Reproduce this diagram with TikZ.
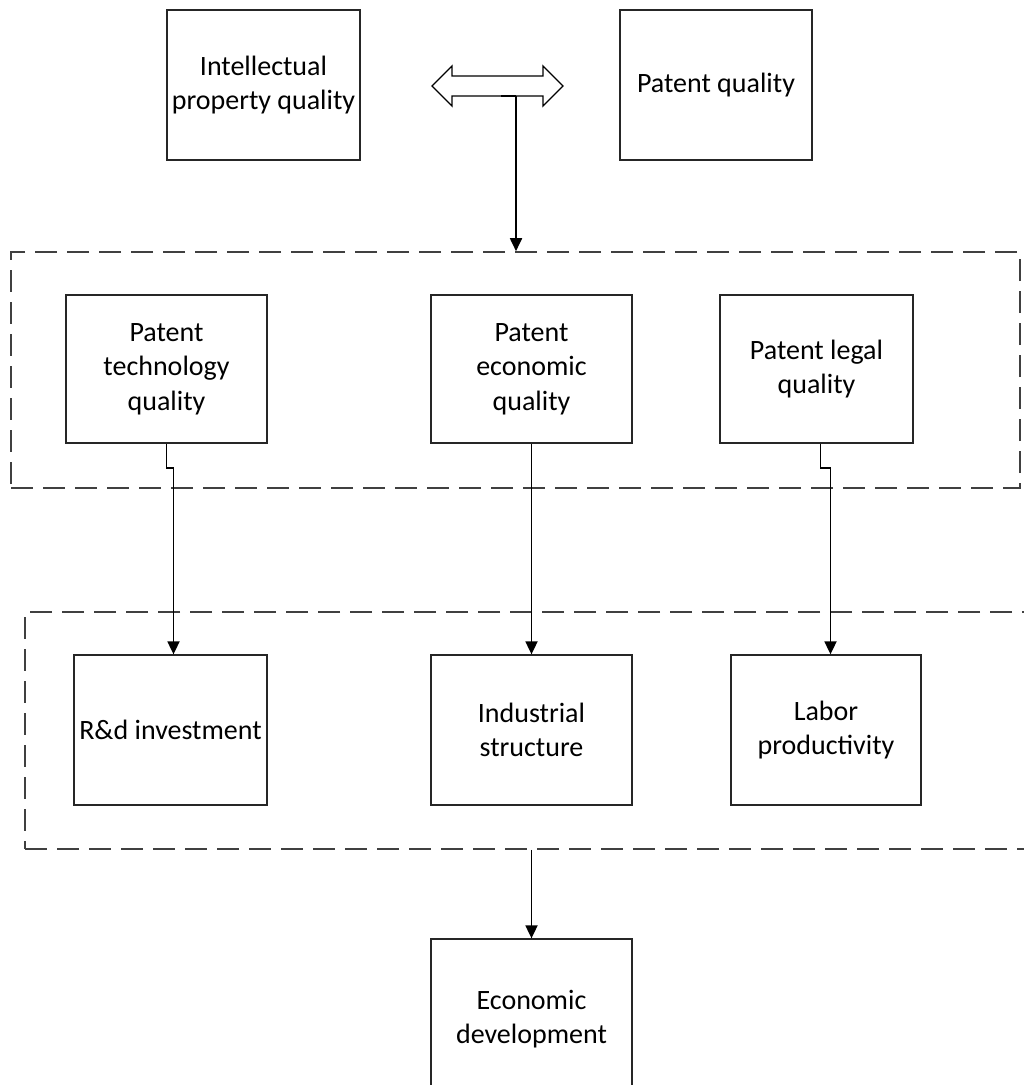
\documentclass[tikz,border=0pt]{standalone}
\usepackage{fontspec}
\setmainfont{Carlito}
\usetikzlibrary{arrows.meta,calc}
\begin{document}
\begin{tikzpicture}[x=1pt,y=-1pt,
  box/.style={draw=black!85,line width=1.3pt,fill=white,align=center,inner sep=0pt,
    font=\fontsize{28}{34.5}\selectfont},
  dbox/.style={draw=black!75,line width=1.6pt,dash pattern=on 22pt off 10pt,inner sep=0pt},
  conn/.style={draw=black,line width=1.8pt,-{Triangle[length=13pt,width=12pt]}}]
\clip (0,0) rectangle (1024,1085);
\fill[white] (0,0) rectangle (1024,1085);
% dashed groups
\node[dbox,minimum width=1009,minimum height=236] (g1) at (515.5,370) {};
\node[dbox,minimum width=1015,minimum height=237] (g2) at (532.5,730.5) {};
% top boxes
\node[box,minimum width=193,minimum height=150] (ipq) at (263.5,85) {Intellectual\\property quality};
\node[box,minimum width=192,minimum height=150] (pq) at (716,85) {Patent quality};
% double arrow
\draw[line width=1.3pt,fill=white] (432,86) -- (452,66) -- (452,76) -- (543,76) -- (543,66)
  -- (563,86) -- (543,106) -- (543,96) -- (452,96) -- (452,106) -- cycle;
\coordinate (da) at (501,96);
% middle boxes
\node[box,minimum width=201,minimum height=148] (ptq) at (166.5,369) {Patent\\technology\\quality};
\node[box,minimum width=201,minimum height=148] (peq) at (531.5,369) {Patent\\economic\\quality};
\node[box,minimum width=193,minimum height=148] (plq) at (816.5,369) {Patent legal\\quality};
% lower boxes
\node[box,minimum width=193,minimum height=150] (rd) at (170.5,730) {R\&d investment};
\node[box,minimum width=201,minimum height=150] (is) at (531.5,730) {Industrial\\structure};
\node[box,minimum width=190,minimum height=150] (lp) at (826,730) {Labor\\productivity};
% bottom box (cut off)
\node[box,minimum width=201,minimum height=160] (ed) at (531.5,1019) {Economic\\development};
% connectors
\draw[line width=2.4pt] (da) -- ++(15,0) coordinate (k0);
\draw[conn] (k0) -- (k0 |- g1.north);
\draw[conn] (ptq.south) -- ++(0,24) -- ++(7,0) coordinate (k1) -- (k1 |- rd.north);
\draw[conn] (peq.south) -- (is.north);
\draw[conn] ([xshift=4]plq.south) -- ++(0,24) -- ++(10,0) coordinate (k3) -- (k3 |- lp.north);
\draw[conn] (ed.north |- g2.south) -- (ed.north);
\end{tikzpicture}
\end{document}
